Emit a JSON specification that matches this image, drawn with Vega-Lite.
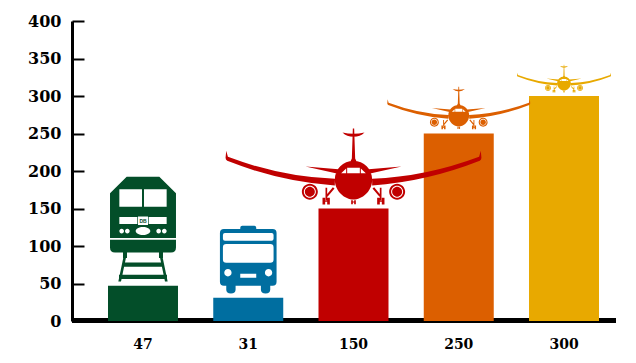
{
  "$schema": "https://vega.github.io/schema/vega-lite/v6.json",
  "width": 544,
  "height": 300,
  "autosize": "none",
  "padding": {"left": 72, "top": 21, "right": 20, "bottom": 42},
  "background": "white",
  "config": {"view": {"stroke": null}},
  "data": {"values": [
    {"mode": "train", "value": 47},
    {"mode": "bus", "value": 31},
    {"mode": "plane_a", "value": 150},
    {"mode": "plane_b", "value": 250},
    {"mode": "plane_c", "value": 300}
  ]},
  "layer": [
    {
      "mark": {"type": "rule", "color": "black", "strokeWidth": 4.5, "yOffset": -0.5},
      "encoding": {
        "y": {
          "datum": 0,
          "type": "quantitative",
          "scale": {"domain": [0, 400]},
          "axis": {
            "title": null,
            "grid": false,
            "values": [0, 50, 100, 150, 200, 250, 300, 350, 400],
            "labelOverlap": false,
            "domainColor": "black",
            "domainWidth": 3,
            "tickColor": "black",
            "tickWidth": 2,
            "tickSize": -12,
            "labelPadding": 23,
            "labelFont": "DejaVu Serif",
            "labelFontWeight": "bold",
            "labelFontSize": 16,
            "labelColor": "black"
          }
        }
      }
    },
    {
      "encoding": {
        "x": {
          "field": "value",
          "type": "ordinal",
          "sort": null,
          "scale": {"range": [36, 527], "paddingInner": 0.335, "paddingOuter": 0},
          "axis": {
            "title": null,
            "ticks": false,
            "domain": false,
            "labelAngle": 0,
            "labelPadding": 16,
            "labelFont": "DejaVu Serif",
            "labelFontWeight": "bold",
            "labelFontSize": 14,
            "labelColor": "black"
          }
        },
        "y": {
          "field": "value",
          "type": "quantitative",
          "stack": null,
          "scale": {"domain": [0, 400]},
          "axis": {
            "title": null,
            "grid": false,
            "values": [0, 50, 100, 150, 200, 250, 300, 350, 400],
            "labelOverlap": false,
            "domainColor": "black",
            "domainWidth": 3,
            "tickColor": "black",
            "tickWidth": 2,
            "tickSize": -12,
            "labelPadding": 23,
            "labelFont": "DejaVu Serif",
            "labelFontWeight": "bold",
            "labelFontSize": 16,
            "labelColor": "black"
          }
        },
        "color": {
          "field": "mode",
          "type": "nominal",
          "legend": null,
          "scale": {
            "domain": ["train", "bus", "plane_a", "plane_b", "plane_c"],
            "range": ["#034e29", "#006ea0", "#c00000", "#dc5f00", "#e8a900"]
          }
        }
      },
      "layer": [
        {"mark": {"type": "bar"}},
        {
          "transform": [{"filter": "datum.mode === 'train'"}],
          "mark": {
            "type": "point", "filled": true, "opacity": 1, "size": 0.444,
            "shape": "M-49 -327 L49 -327 L99 -278 L99 -143 L-99 -143 L-99 -278 Z M-99 -139 L99 -139 L99 -115 Q99 -100 84 -100 L-84 -100 Q-99 -100 -99 -115 Z M-60 -100 L-48 -100 L-48 -83 L-60 -83 Z M48 -100 L60 -100 L60 -83 L48 -83 Z M-59 -85 L-51 -85 L-66 -13 L-74 -13 Z M51 -85 L59 -85 L74 -13 L66 -13 Z M-60 -70 L60 -70 L60 -57 L-60 -57 Z M-72 -33 L72 -33 L72 -20 L-72 -20 Z"
          }
        },
        {
          "transform": [{"filter": "datum.mode === 'train'"}],
          "mark": {
            "type": "point", "filled": true, "opacity": 1, "size": 0.444,
            "shape": "M-71 -290 L-3 -290 L-3 -237 L-71 -237 Z M3 -290 L71 -290 L71 -237 L3 -237 Z M-71 -206 L-17 -206 L-17 -185 L-71 -185 Z M17 -206 L71 -206 L71 -185 L17 -185 Z M-15 -208 L15 -208 L15 -182 L-15 -182 Z M-99 -143 L99 -143 L99 -139 L-99 -139 Z M-71 -164 C-71 -168 -68 -171 -64 -171 C-60 -171 -57 -168 -57 -164 C-57 -160 -60 -157 -64 -157 C-68 -157 -71 -160 -71 -164 Z M-54 -164 C-54 -168 -51 -171 -47 -171 C-43 -171 -40 -168 -40 -164 C-40 -160 -43 -157 -47 -157 C-51 -157 -54 -160 -54 -164 Z M40 -164 C40 -168 43 -171 47 -171 C51 -171 54 -168 54 -164 C54 -160 51 -157 47 -157 C43 -157 40 -160 40 -164 Z M57 -164 C57 -168 60 -171 64 -171 C68 -171 71 -168 71 -164 C71 -160 68 -157 64 -157 C60 -157 57 -160 57 -164 Z M-22 -164 C-22 -171 -12 -176 0 -176 C12 -176 22 -171 22 -164 C22 -157 12 -152 0 -152 C-12 -152 -22 -157 -22 -164 Z"
          },
          "encoding": {"color": {"value": "white"}}
        },
        {
          "transform": [{"filter": "datum.mode === 'train'"}],
          "mark": {
            "type": "text", "text": "DB", "font": "Liberation Sans", "fontWeight": "bold",
            "fontSize": 5, "yOffset": -65, "align": "center", "baseline": "middle"
          }
        },
        {
          "transform": [{"filter": "datum.mode === 'bus'"}],
          "mark": {
            "type": "point", "filled": true, "opacity": 1, "size": 0.444,
            "shape": "M-73 -206 L73 -206 Q85 -206 85 -194 L85 -48 Q85 -36 73 -36 L-73 -36 Q-85 -36 -85 -48 L-85 -194 Q-85 -206 -73 -206 Z M-18 -216 L18 -216 Q24 -216 24 -210 L24 -200 L-24 -200 L-24 -210 Q-24 -216 -18 -216 Z M-66 -40 L-38 -40 L-38 -24 Q-38 -13 -52 -13 Q-66 -13 -66 -24 Z M38 -40 L66 -40 L66 -24 Q66 -13 52 -13 Q38 -13 38 -24 Z"
          }
        },
        {
          "transform": [{"filter": "datum.mode === 'bus'"}],
          "mark": {
            "type": "point", "filled": true, "opacity": 1, "size": 0.444,
            "shape": "M-70 -194 L70 -194 Q76 -194 76 -188 L76 -177 Q76 -171 70 -171 L-70 -171 Q-76 -171 -76 -177 L-76 -188 Q-76 -194 -70 -194 Z M-66 -161 L66 -161 Q76 -161 76 -151 L76 -115 Q76 -105 66 -105 L-66 -105 Q-76 -105 -76 -115 L-76 -151 Q-76 -161 -66 -161 Z M-24 -72 L24 -72 L24 -60 L-24 -60 Z M-72 -75 C-72 -81 -67 -86 -61 -86 C-55 -86 -50 -81 -50 -75 C-50 -69 -55 -64 -61 -64 C-67 -64 -72 -69 -72 -75 Z M50 -75 C50 -81 55 -86 61 -86 C67 -86 72 -81 72 -75 C72 -69 67 -64 61 -64 C55 -64 50 -69 50 -75 Z"
          },
          "encoding": {"color": {"value": "white"}}
        },
        {
          "transform": [{"filter": "indexof(datum.mode, 'plane') === 0"}],
          "mark": {
            "type": "point", "filled": true, "opacity": 1,
            "yOffset": {"expr": "datum.mode === 'plane_a' ? 0 : -2"},
            "shape": "M-382 -173 L-377 -155 Q-217 -95 -56 -89 L-56 -69 Q-219 -80 -379 -143 Q-384 -146 -384 -152 Z M56 -89 Q217 -95 377 -155 L382 -173 L384 -152 Q384 -146 379 -143 Q219 -80 56 -69 Z M-144 -126 L-45 -118 L-50 -105 Z M45 -118 L144 -126 L50 -105 Z M-56 -87 C-56 -118 -31 -143 0 -143 C31 -143 56 -118 56 -87 C56 -50 25 -27 0 -27 C-25 -27 -56 -50 -56 -87 Z M-2 -240 L2 -240 L5 -150 L12 -135 L-12 -135 L-5 -150 Z M-33 -228 Q0 -220 33 -228 Q20 -215 0 -215 Q-20 -215 -33 -228 Z M-155 -50 C-155 -63 -144 -74 -131 -74 C-118 -74 -107 -63 -107 -50 C-107 -37 -118 -26 -131 -26 C-144 -26 -155 -37 -155 -50 Z M107 -50 C107 -63 118 -74 131 -74 C144 -74 155 -63 155 -50 C155 -37 144 -26 131 -26 C118 -26 107 -37 107 -50 Z M-84 -62 L-79 -62 L-79 -25 L-84 -25 Z M79 -62 L84 -62 L84 -25 L79 -25 Z M-62 -64 L-57 -60 L-78 -35 L-82 -40 Z M57 -60 L62 -64 L82 -40 L78 -35 Z M-93 -32 L-85 -32 L-85 -12 L-93 -12 Z M-79 -32 L-71 -32 L-71 -12 L-79 -12 Z M-85 -24 L-79 -24 L-79 -20 L-85 -20 Z M71 -32 L79 -32 L79 -12 L71 -12 Z M85 -32 L93 -32 L93 -12 L85 -12 Z M79 -24 L85 -24 L85 -20 L79 -20 Z M-7 -25 L-2 -25 L-2 -13 L-7 -13 Z M2 -25 L7 -25 L7 -13 L2 -13 Z M-2 -21 L2 -21 L2 -18 L-2 -18 Z"
          },
          "encoding": {
            "size": {
              "field": "mode", "type": "nominal", "legend": null,
              "scale": {"type": "ordinal", "domain": ["plane_a", "plane_b", "plane_c"], "range": [0.444, 0.1386, 0.0599]}
            }
          }
        },
        {
          "transform": [{"filter": "indexof(datum.mode, 'plane') === 0"}],
          "mark": {
            "type": "point", "filled": true, "opacity": 1,
            "yOffset": {"expr": "datum.mode === 'plane_a' ? 0 : -2"},
            "shape": "M-19 -122 L19 -122 L19 -106 L-19 -106 Z M-22 -120 L-22 -106 L-37 -106 Z M22 -120 L37 -106 L22 -106 Z M-149 -50 C-149 -60 -141 -68 -131 -68 C-121 -68 -113 -60 -113 -50 C-113 -40 -121 -32 -131 -32 C-141 -32 -149 -40 -149 -50 Z M-146 -50 C-146 -42 -139 -35 -131 -35 C-123 -35 -116 -42 -116 -50 C-116 -58 -123 -65 -131 -65 C-139 -65 -146 -58 -146 -50 Z M113 -50 C113 -60 121 -68 131 -68 C141 -68 149 -60 149 -50 C149 -40 141 -32 131 -32 C121 -32 113 -40 113 -50 Z M116 -50 C116 -42 123 -35 131 -35 C139 -35 146 -42 146 -50 C146 -58 139 -65 131 -65 C123 -65 116 -58 116 -50 Z"
          },
          "encoding": {
            "color": {"value": "white"},
            "size": {
              "field": "mode", "type": "nominal", "legend": null,
              "scale": {"type": "ordinal", "domain": ["plane_a", "plane_b", "plane_c"], "range": [0.444, 0.1386, 0.0599]}
            }
          }
        }
      ]
    }
  ]
}
